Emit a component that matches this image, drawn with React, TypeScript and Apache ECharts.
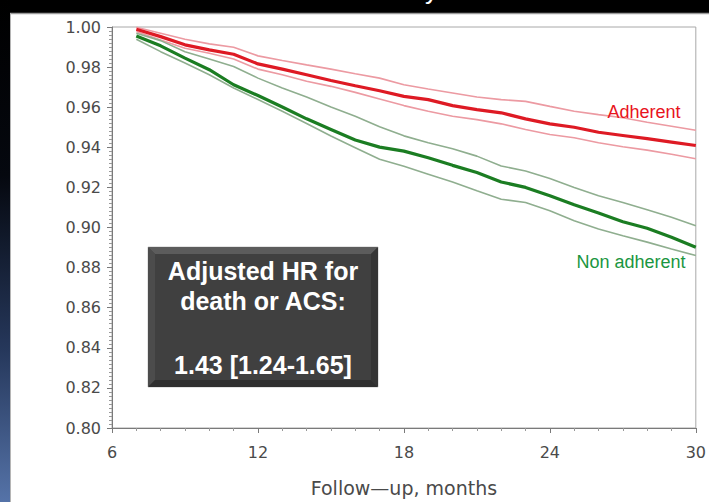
import React, { useEffect, useRef } from "react";
import * as echarts from "echarts";

// Follow-up months (x) for the Kaplan-Meier style curves
const months = [7, 8, 9, 10, 11, 12, 13, 14, 15, 16, 17, 18, 19, 20, 21, 22, 23, 24, 25, 26, 27, 28, 29, 30];

// Adherent: estimate and 95% CI
const adherent = [0.9989, 0.9952, 0.9911, 0.9886, 0.9864, 0.9816, 0.979, 0.9762, 0.9733, 0.9707, 0.9682, 0.9654, 0.9638, 0.9608, 0.9588, 0.9572, 0.9542, 0.9517, 0.95, 0.9475, 0.9459, 0.9443, 0.9426, 0.9409];
const adherentUpper = [0.9999, 0.9969, 0.9939, 0.9916, 0.9899, 0.9856, 0.9833, 0.9811, 0.979, 0.9767, 0.9745, 0.9712, 0.9691, 0.9671, 0.9651, 0.9638, 0.9629, 0.9604, 0.958, 0.9563, 0.9547, 0.9525, 0.9505, 0.9485];
const adherentLower = [0.9977, 0.9935, 0.9894, 0.9869, 0.984, 0.979, 0.9762, 0.9729, 0.9704, 0.9674, 0.9641, 0.9608, 0.958, 0.9555, 0.9538, 0.9517, 0.9489, 0.9464, 0.9448, 0.9423, 0.9403, 0.9386, 0.9365, 0.9343];

// Non adherent: estimate and 95% CI
const nonAdherent = [0.9955, 0.9906, 0.9845, 0.9787, 0.9712, 0.9658, 0.9601, 0.9542, 0.9489, 0.9436, 0.9401, 0.9381, 0.9348, 0.931, 0.9274, 0.9227, 0.92, 0.9158, 0.9113, 0.9072, 0.9029, 0.8996, 0.8951, 0.8902];
const nonAdherentUpper = [0.9969, 0.9932, 0.9877, 0.984, 0.9803, 0.9745, 0.9696, 0.9651, 0.9601, 0.9555, 0.9502, 0.9457, 0.9423, 0.9393, 0.9356, 0.9307, 0.9282, 0.9244, 0.92, 0.9158, 0.9125, 0.9088, 0.9051, 0.9009];
const nonAdherentLower = [0.9939, 0.9877, 0.982, 0.9762, 0.9696, 0.9638, 0.958, 0.9519, 0.9456, 0.9398, 0.934, 0.9305, 0.9266, 0.9227, 0.9183, 0.9141, 0.9125, 0.9083, 0.9034, 0.8993, 0.8959, 0.8927, 0.8893, 0.886];

const xTicks = [6, 12, 18, 24, 30];
const yTicks = [0.8, 0.82, 0.84, 0.86, 0.88, 0.9, 0.92, 0.94, 0.96, 0.98, 1.0];

const titleText = "Event-free survival by adherence";
const xAxisTitle = "Follow\u2014up, months";
const labelAdherent = "Adherent";
const labelNonAdherent = "Non adherent";
const boxLines = ["Adjusted HR for", "death or ACS:", "1.43 [1.24-1.65]"];

const pairs = (ys: number[]) => months.map((m, i) => [m, ys[i]]);

export default function App() {
  const ref = useRef<HTMLDivElement>(null);

  useEffect(() => {
    if (!ref.current) return;
    const chart = echarts.init(ref.current, null, { renderer: "svg" });

    const bx = 148, by = 247, bw = 230, bh = 140, b = 7;
    const tickFont = "DejaVu Sans, Liberation Sans, Arial, sans-serif";
    const arial = "Liberation Sans, Arial, sans-serif";

    const ciLine = (name: string, ys: number[], color: string) => ({
      name,
      type: "line",
      data: pairs(ys),
      showSymbol: false,
      symbol: "none",
      lineStyle: { color, width: 1.6 },
      z: 2,
    });

    chart.setOption({
      animation: false,
      backgroundColor: "#ffffff",
      grid: {
        left: 112,
        right: 5,
        top: 27,
        bottom: 72,
        show: true,
        borderColor: "#a8a8a8",
        borderWidth: 1,
        backgroundColor: "transparent",
      },
      xAxis: {
        type: "value",
        min: xTicks[0],
        max: xTicks[xTicks.length - 1],
        interval: 6,
        axisLine: { show: true, onZero: false, lineStyle: { color: "#7a7a7a", width: 1 } },
        axisTick: { show: true, length: 5, lineStyle: { color: "#7a7a7a" } },
        minorTick: { show: true, splitNumber: 6, length: 3, lineStyle: { color: "#999" } },
        splitLine: { show: false },
        axisLabel: { fontSize: 16, color: "#4a4a4a", fontFamily: tickFont, margin: 16 },
        name: xAxisTitle,
        nameLocation: "middle",
        nameGap: 50,
        nameTextStyle: { fontSize: 19, color: "#4a4a4a", fontFamily: tickFont },
      },
      yAxis: {
        type: "value",
        min: yTicks[0],
        max: yTicks[yTicks.length - 1],
        interval: 0.02,
        axisLine: { show: true, onZero: false, lineStyle: { color: "#7a7a7a", width: 1 } },
        axisTick: { show: true, length: 5, lineStyle: { color: "#7a7a7a" } },
        minorTick: { show: true, splitNumber: 10, length: 3, lineStyle: { color: "#999" } },
        splitLine: { show: false },
        axisLabel: {
          fontSize: 16,
          color: "#4a4a4a",
          fontFamily: tickFont,
          margin: 11,
          formatter: (v: number) => v.toFixed(2),
        },
      },
      series: [
        ciLine("Adherent upper", adherentUpper, "#ec9aa2"),
        ciLine("Adherent lower", adherentLower, "#ec9aa2"),
        ciLine("Non adherent upper", nonAdherentUpper, "#8fae8f"),
        ciLine("Non adherent lower", nonAdherentLower, "#8fae8f"),
        {
          name: "Adherent",
          type: "line",
          data: pairs(adherent),
          showSymbol: false,
          symbol: "none",
          lineStyle: { color: "#de1a24", width: 3.2 },
          z: 3,
        },
        {
          name: "Non adherent",
          type: "line",
          data: pairs(nonAdherent),
          showSymbol: false,
          symbol: "none",
          lineStyle: { color: "#1b7d22", width: 3.2 },
          z: 3,
        },
      ],
      graphic: [
        // black top band
        { type: "rect", shape: { x: 0, y: 0, width: 709, height: 13 }, style: { fill: "#000" }, z: 10 },
        { type: "line", shape: { x1: 10, y1: 13.5, x2: 709, y2: 13.5 }, style: { stroke: "#9a9a9a", lineWidth: 1.5 }, z: 10 },
        // left gradient strip
        {
          type: "rect",
          shape: { x: 0, y: 0, width: 10, height: 502 },
          style: {
            fill: new echarts.graphic.LinearGradient(0, 0, 0, 1, [
              { offset: 0, color: "#000000" },
              { offset: 0.35, color: "#05080f" },
              { offset: 0.7, color: "#26385c" },
              { offset: 1, color: "#5573a8" },
            ]),
          },
          z: 10,
        },
        { type: "line", shape: { x1: 10.5, y1: 13, x2: 10.5, y2: 502 }, style: { stroke: "#b5b5b5", lineWidth: 1 }, z: 10 },
        // slide title: only its lowest strokes show above the chart panel, as in the reference
        {
          type: "text",
          x: 378,
          y: -10,
          style: {
            text: titleText,
            fill: "#ffffff",
            font: "26px " + arial,
            textAlign: "center",
            textVerticalAlign: "middle",
          },
          z: 11,
        },
        // annotation box with bevel
        { type: "rect", shape: { x: bx, y: by, width: bw, height: bh }, style: { fill: "#404040", stroke: "#c8c8c8", lineWidth: 1 }, z: 20 },
        { type: "polygon", shape: { points: [[bx, by], [bx + bw, by], [bx + bw - b, by + b], [bx + b, by + b]] }, style: { fill: "#5c5c5c" }, z: 21 },
        { type: "polygon", shape: { points: [[bx, by], [bx + b, by + b], [bx + b, by + bh - b], [bx, by + bh]] }, style: { fill: "#4c4c4c" }, z: 21 },
        { type: "polygon", shape: { points: [[bx + bw, by], [bx + bw, by + bh], [bx + bw - b, by + bh - b], [bx + bw - b, by + b]] }, style: { fill: "#353535" }, z: 21 },
        { type: "polygon", shape: { points: [[bx, by + bh], [bx + bw, by + bh], [bx + bw - b, by + bh - b], [bx + b, by + bh - b]] }, style: { fill: "#2f2f2f" }, z: 21 },
        {
          type: "text",
          x: bx + bw / 2,
          y: 271,
          style: { text: boxLines[0], fill: "#fff", font: "bold 25px " + arial, textAlign: "center", textVerticalAlign: "middle" },
          z: 22,
        },
        {
          type: "text",
          x: bx + bw / 2,
          y: 301,
          style: { text: boxLines[1], fill: "#fff", font: "bold 25px " + arial, textAlign: "center", textVerticalAlign: "middle" },
          z: 22,
        },
        {
          type: "text",
          x: bx + bw / 2,
          y: 365,
          style: { text: boxLines[2], fill: "#fff", font: "bold 25px " + arial, textAlign: "center", textVerticalAlign: "middle" },
          z: 22,
        },
        // curve labels
        {
          type: "text",
          x: 644,
          y: 112,
          style: { text: labelAdherent, fill: "#e8141c", font: "18px " + arial, textAlign: "center", textVerticalAlign: "middle" },
          z: 22,
        },
        {
          type: "text",
          x: 631,
          y: 262,
          style: { text: labelNonAdherent, fill: "#1a9641", font: "18px " + arial, textAlign: "center", textVerticalAlign: "middle" },
          z: 22,
        },
      ],
    });

    return () => chart.dispose();
  }, []);

  return (
    <div
      ref={ref}
      style={{ position: "fixed", left: 0, top: 0, width: 709, height: 502 }}
    />
  );
}
